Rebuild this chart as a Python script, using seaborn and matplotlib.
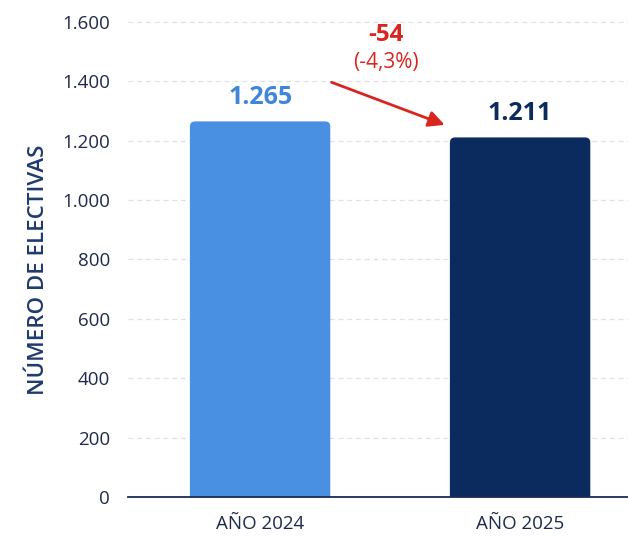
import matplotlib
matplotlib.use("Agg")
import matplotlib.pyplot as plt
from matplotlib.patches import FancyBboxPatch
import seaborn as sns
import pandas as pd

categories = ["AÑO 2024", "AÑO 2025"]
values = [1265, 1211]
value_labels = ["1.265", "1.211"]
bar_colors = ["#4A90E2", "#0B2A5E"]
label_colors = ["#3F86DA", "#0B2A5E"]
diff_label = "-54"
pct_label = "(-4,3%)"
yticks = [0, 200, 400, 600, 800, 1000, 1200, 1400, 1600]
ytick_labels = ["0", "200", "400", "600", "800", "1.000", "1.200", "1.400", "1.600"]

sns.set_theme(style="white")
plt.rcParams['font.family'] = ['Open Sans', 'DejaVu Sans']

df = pd.DataFrame({"cat": categories, "val": values})

fig = plt.figure(figsize=(6.28, 5.36), dpi=100)
ax = fig.add_axes([128/628, 39/536, 500/628, 492/536])

sns.barplot(data=df, x="cat", y="val", hue="cat", palette=bar_colors,
            width=0.54, ax=ax, legend=False, saturation=1, zorder=3)

ax.set_xlim(-0.508, 1.415)
ax.set_ylim(0, 1657)

# rounded top corners
for p in list(ax.patches):
    x0, w, h = p.get_x(), p.get_width(), p.get_height()
    fc = p.get_facecolor()
    p.set_visible(False)
    fb = FancyBboxPatch((x0, -40), w, h + 40,
                        boxstyle="round,pad=0,rounding_size=0.02",
                        mutation_aspect=876, facecolor=fc, edgecolor="none", zorder=3)
    ax.add_patch(fb)

ax.set_yticks(yticks)
ax.set_yticklabels(ytick_labels)
ax.tick_params(axis='y', length=0, labelsize=13.5, colors="#1E2A4A", pad=13)
ax.tick_params(axis='x', length=0, labelsize=13.5, colors="#1E2A4A", pad=13)
ax.set_xlabel("")
ax.set_ylabel("NÚMERO DE ELECTIVAS", fontsize=16, fontweight="semibold", color="#1F3A6E")
ax.yaxis.set_label_coords(-0.158, 0.461)

for y in yticks[1:]:
    ax.axhline(y, color="#E0E2E7", linestyle=(0, (4, 3)), linewidth=0.9, zorder=0)

for s in ["left", "right", "top"]:
    ax.spines[s].set_visible(False)
ax.spines["bottom"].set_color("#1A2B55")
ax.spines["bottom"].set_linewidth(1.3)
ax.spines["bottom"].set_zorder(4)

for i, (v, lab, c) in enumerate(zip(values, value_labels, label_colors)):
    ax.annotate(lab, (i, v), xytext=(0, 17), textcoords="offset points",
                ha="center", va="center", fontsize=18, fontweight="bold", color=c)

red = "#D8261E"
ax.text(0.485, 1556, diff_label, ha="center", va="center", fontsize=17.5, fontweight="bold", color=red)
ax.text(0.485, 1465, pct_label, ha="center", va="center", fontsize=15, color=red)
ax.annotate("", xy=(0.72, 1250), xytext=(0.265, 1400),
            arrowprops=dict(arrowstyle="-|>,head_length=0.8,head_width=0.4", color=red, lw=2))

fig.savefig("out.png", dpi=100)
